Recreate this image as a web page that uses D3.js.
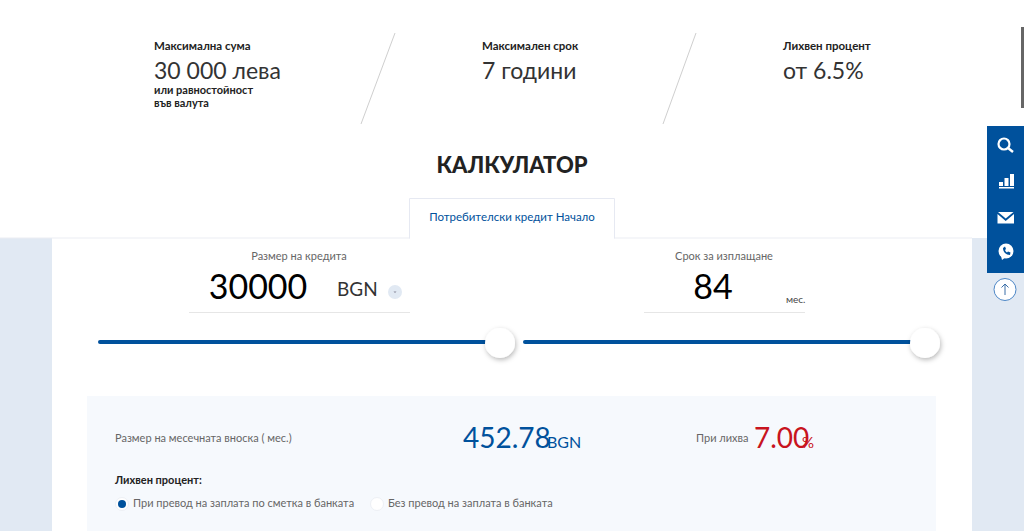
<!DOCTYPE html>
<html>
<head>
<meta charset="utf-8">
<script src="https://cdn.jsdelivr.net/npm/d3@7"></script>
<style>
html, body { margin: 0; padding: 0; background: #fff; overflow: hidden; }
svg { display: block; }
text { font-family: Lato, "Noto Sans", sans-serif; }
</style>
</head>
<body>
<svg id="page" width="1024" height="531"></svg>
<script>
// values
var headlineTitles = ["Максимална сума", "Максимален срок", "Лихвен процент"];
var headlineValues = ["30 000 лева", "7 години", "от 6.5%"];
var headlineNotes = ["или равностойност", "във валута"];
var sliderLabels = ["Размер на кредита", "Срок за изплащане"];
var sliderValues = [30000, 84];
var sliderMax = [30000, 84];
var sliderUnits = ["BGN", "мес."];
var pageTitle = "КАЛКУЛАТОР";
var tabLabel = "Потребителски кредит Начало";
var resultLabels = ["Размер на месечната вноска ( мес.)", "При лихва"];
var monthlyPayment = 452.78;
var interestRate = 7.00;
var rateHeading = "Лихвен процент:";
var rateOptions = ["При превод на заплата по сметка в банката", "Без превод на заплата в банката"];

var blue = "#00519c", red = "#c8141e", pale = "#e1e9f3", grey = "#666";

var svg = d3.select("#page");
var defs = svg.append("defs");

// thumb shadow
var shadow = defs.append("filter").attr("id", "thumb-shadow")
    .attr("x", "-50%").attr("y", "-50%").attr("width", "200%").attr("height", "200%");
shadow.append("feDropShadow")
    .attr("dx", 1).attr("dy", 2).attr("stdDeviation", 2.5)
    .attr("flood-color", "#000").attr("flood-opacity", 0.28);

function label(str, x, y, size, color, anchor, weight) {
    return svg.append("text")
        .attr("x", x).attr("y", y)
        .attr("font-size", size)
        .attr("fill", color)
        .attr("text-anchor", anchor || "start")
        .attr("font-weight", weight || 400)
        .text(str);
}

function rect(x, y, w, h, fill) {
    return svg.append("rect").attr("x", x).attr("y", y).attr("width", w).attr("height", h).attr("fill", fill);
}

// BACKGROUND
rect(0, 238, 1024, 293, pale);
rect(52, 238, 920, 293, "#fff");
rect(0, 237.5, 972, 1, "#eceef4");
rect(87, 396, 849, 135, "#f6f9fd");
rect(1021, 27, 3, 81, "#666");

// HEADLINES
var headlineX = [154, 482, 783];
headlineTitles.forEach(function (d, i) {
    label(d, headlineX[i], 50, 11.5, "#222", "start", 700);
    label(headlineValues[i], headlineX[i], 79, 23, "#333");
});
headlineNotes.forEach(function (d, i) {
    label(d, 154, 94 + i * 13, 11, "#222", "start", 700);
});
[[395, 361], [696, 663]].forEach(function (d) {
    svg.append("line")
        .attr("x1", d[0]).attr("y1", 33).attr("x2", d[1]).attr("y2", 124)
        .attr("stroke", "#cfcfcf").attr("stroke-width", 1);
});

// TITLE AND TAB
label(pageTitle, 512, 173, 22, "#222", "middle", 900);
svg.append("path")
    .attr("d", "M409.5,238.5V198.5H614.5V238.5")
    .attr("fill", "#fff").attr("stroke", "#e6e9f2");
rect(410, 236, 204, 4, "#fff");
label(tabLabel, 512, 221, 11.5, blue, "middle");

// SLIDERS
var sliderRanges = [[100, 500], [525, 925]];
var sliderCentres = [299, 724];
var valueCentres = [258, 713];
var underlines = [[189, 410], [644, 805]];

sliderValues.forEach(function (v, i) {
    var x = d3.scaleLinear().domain([0, sliderMax[i]]).range(sliderRanges[i]);

    label(sliderLabels[i], sliderCentres[i], 260, 11, grey, "middle");
    label(v, valueCentres[i], 299, 34, "#000", "middle");
    svg.append("line")
        .attr("x1", underlines[i][0]).attr("x2", underlines[i][1])
        .attr("y1", 312.5).attr("y2", 312.5)
        .attr("stroke", "#e6e6e6");

    svg.append("line")
        .attr("x1", x(0)).attr("x2", x(v))
        .attr("y1", 342).attr("y2", 342)
        .attr("stroke", blue).attr("stroke-width", 4).attr("stroke-linecap", "round");
    svg.append("circle")
        .attr("cx", x(v)).attr("cy", 343).attr("r", 15)
        .attr("fill", "#fff")
        .attr("filter", "url(#thumb-shadow)");
});
label(sliderUnits[0], 337, 296, 19, "#333");
label(sliderUnits[1], 786, 303, 10, "#444");
svg.append("circle").attr("cx", 395).attr("cy", 292).attr("r", 7).attr("fill", pale);
svg.append("path").attr("d", "M393.5,291.5h3l-1.5,1.5z").attr("fill", "#889");

// RESULT PANEL
label(resultLabels[0], 115, 442, 11, grey);
label(monthlyPayment.toFixed(2), 463, 448, 28, blue);
label(sliderUnits[0], 547, 448, 16, blue);
label(resultLabels[1], 696, 442, 11, grey);
label(interestRate.toFixed(2), 754, 448, 28, red);
label("%", 802, 448, 15, red);

label(rateHeading, 115, 484, 11, "#222", "start", 700);
var optionX = [122, 377];
rateOptions.forEach(function (d, i) {
    svg.append("circle").attr("cx", optionX[i]).attr("cy", 504).attr("r", 6.5)
        .attr("fill", "#fff").attr("stroke", "#edf0f5");
    label(d, optionX[i] + 11, 507, 11, grey);
});
svg.append("circle").attr("cx", optionX[0]).attr("cy", 504).attr("r", 4).attr("fill", blue);

// SIDE MENU
rect(987, 126, 37, 147, blue);

// search
svg.append("circle").attr("cx", 1004).attr("cy", 144).attr("r", 5.5)
    .attr("fill", "none").attr("stroke", "#fff").attr("stroke-width", 2.2);
svg.append("line").attr("x1", 1008).attr("y1", 148).attr("x2", 1013).attr("y2", 152)
    .attr("stroke", "#fff").attr("stroke-width", 2.5);

// bars
rect(999, 182, 4, 4, "#fff");
rect(1004.5, 178, 4, 8, "#fff");
rect(1010, 174, 4, 12, "#fff");
rect(999, 187, 15, 1.5, "#fff");

// mail
svg.append("path").attr("d", "M998,212H1013.5L1005.7,218.5Z").attr("fill", "#fff");
svg.append("path").attr("d", "M997.5,214V223.5H1014V214L1005.7,221Z").attr("fill", "#fff");

// viber
svg.append("circle").attr("cx", 1006).attr("cy", 251).attr("r", 7.5).attr("fill", "#fff");
svg.append("path").attr("d", "M1001,256L1002,260L1006,257Z").attr("fill", "#fff");
svg.append("path").attr("d", "M1003,248C1003,252 1006,255 1010,255L1010.5,252.5L1008,251.5L1007,252.5C1006,252 1005.5,251 1005,250L1006,249L1005,246.5Z").attr("fill", blue);

// back to top
svg.append("circle").attr("cx", 1005).attr("cy", 289.5).attr("r", 11)
    .attr("fill", "#fff").attr("stroke", "#4c86c6");
svg.append("path").attr("d", "M1005,295V284M1001.5,287.5L1005,284L1008.5,287.5")
    .attr("fill", "none").attr("stroke", "#3b6fa8");
</script>
</body>
</html>
